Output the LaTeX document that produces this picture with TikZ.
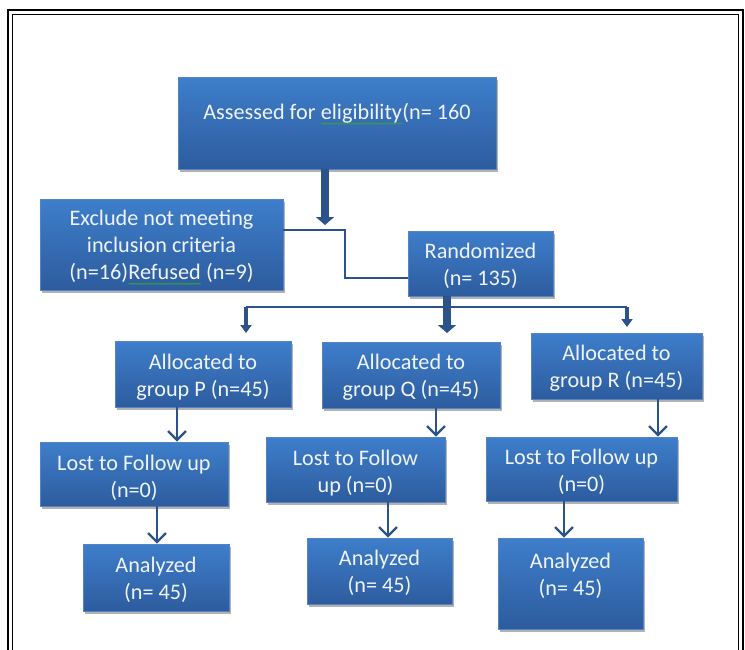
\documentclass[tikz,border=0pt]{standalone}
\usepackage{fontspec}
\setmainfont{Carlito}
\usetikzlibrary{arrows.meta,shadows,decorations.pathmorphing}
\definecolor{boxtop}{RGB}{62,126,203}
\definecolor{boxbot}{RGB}{45,92,158}
\definecolor{boxedge}{RGB}{84,132,196}
\definecolor{conn}{RGB}{44,82,138}
\definecolor{txtc}{RGB}{240,244,250}
\definecolor{wavec}{RGB}{60,160,60}
\newcommand\squig[1]{\tikz[baseline=(w.base)]{\node[inner sep=0pt,outer sep=0pt,anchor=base,text=txtc](w){#1};\draw[wavec,line width=0.7pt,decorate,decoration={snake,amplitude=0.7pt,segment length=3pt}]([yshift=-4pt]w.base west)--([yshift=-4pt]w.base east);}}
\tikzset{
 box/.style={rectangle, inner sep=0pt, top color=boxtop, bottom color=boxbot, draw=boxedge, line width=0.6pt,
   drop shadow={shadow xshift=1.5pt,shadow yshift=-2.5pt,opacity=0.3,fill=black}},
 txt/.style={text=txtc, align=center, inner sep=0pt, font=\fontsize{22.2}{27}\selectfont},
 thinline/.style={conn, line width=2.2pt},
 openarrow/.style={conn, line width=2.4pt, -{Straight Barb[length=9pt,width=18pt]}},
 bigarrow/.style={conn, line width=8pt, -{Triangle[length=8pt,width=18pt]}},
 midarrow/.style={conn, line width=4.5pt, -{Triangle[length=8pt,width=11pt]}},
 frameouter/.style={black, line width=2.5pt},
 frameinner/.style={black, line width=1pt},
}
\begin{document}
\begin{tikzpicture}[x=1pt,y=-1pt]
\useasboundingbox (0,0) rectangle (745,649);
\fill[white] (0,0) rectangle (745,649);
\begin{scope}
\clip (0,0) rectangle (745,649);
\draw[frameouter] (8,10) rectangle (743,680);
\draw[frameinner] (12.5,14.5) rectangle (738.5,680);
\end{scope}

% boxes
\node[box,minimum width=318pt,minimum height=92pt] (assess) at (337,123) {};
\node[txt] (assessT) at (337,114) {Assessed for \squig{eligibility}(n= 160};

\node[box,minimum width=243pt,minimum height=91pt] (excl) at (161.5,244.5) {};
\node[txt] (exclT) at (161.5,247.5) {Exclude not meeting\\inclusion criteria\\(n=16)\squig{Refused} (n=9)};

\node[box,minimum width=145pt,minimum height=65pt] (rand) at (480.5,263.5) {};
\node[txt] (randT) at (480.5,266) {Randomized\\(n= 135)};

\node[box,minimum width=176pt,minimum height=66pt] (allocP) at (203,374) {};
\node[txt] (allocPT) at (203,377) {Allocated to\\group P (n=45)};
\node[box,minimum width=178pt,minimum height=66pt] (allocQ) at (411,375) {};
\node[txt] (allocQT) at (411,377.5) {Allocated to\\group Q (n=45)};
\node[box,minimum width=171pt,minimum height=66pt] (allocR) at (616.5,366) {};
\node[txt] (allocRT) at (616.5,368.5) {Allocated to\\group R (n=45)};

\node[box,minimum width=188pt,minimum height=64pt] (lostP) at (134,474) {};
\node[txt] (lostPT) at (134,478) {Lost to Follow up\\(n=0)};
\node[box,minimum width=179pt,minimum height=65pt] (lostQ) at (355.5,469.5) {};
\node[txt] (lostQT) at (355.5,473) {Lost to Follow\\up (n=0)};
\node[box,minimum width=191pt,minimum height=64pt] (lostR) at (581.5,469) {};
\node[txt] (lostRT) at (581.5,472) {Lost to Follow up\\(n=0)};

\node[box,minimum width=146pt,minimum height=67pt] (anaP) at (156,577.5) {};
\node[txt] (anaPT) at (156,580) {Analyzed\\(n= 45)};
\node[box,minimum width=145pt,minimum height=66pt] (anaQ) at (379.5,571) {};
\node[txt] (anaQT) at (379.5,573) {Analyzed\\(n= 45)};
\node[box,minimum width=145pt,minimum height=91pt] (anaR) at (570.5,583.5) {};
\node[txt] (anaRT) at (570.5,576) {Analyzed\\(n= 45)};

% connectors
\coordinate (a1) at (325,225);
\draw[bigarrow] (assess.south -| a1) -- (a1);

\coordinate (c1) at (345,230);
\coordinate (c2) at (345,278);
\draw[thinline] (excl.east |- c1) -- (c1) -- (c2) -- (rand.west |- c2);

\coordinate (bl) at (246,307);
\coordinate (br) at (627,307);
\coordinate (blt) at (246,333);
\coordinate (brt) at (627,327);
\coordinate (mt) at (447,333);
\draw[conn,line width=2.8pt] (bl) -- (br);
\draw[midarrow] (bl) -- (blt);
\draw[midarrow] (br) -- (brt);
\draw[bigarrow] (rand.south -| mt) -- (mt);

\coordinate (xp) at (177,0);
\coordinate (xq) at (436,0);
\coordinate (xr) at (658,0);
\draw[openarrow] (allocP.south -| xp) -- (lostP.north -| xp);
\draw[openarrow] (allocQ.south -| xq) -- (lostQ.north -| xq);
\draw[openarrow] (allocR.south -| xr) -- (lostR.north -| xr);

\coordinate (yp) at (157,0);
\coordinate (yq) at (388,0);
\coordinate (yr) at (564,0);
\draw[openarrow] (lostP.south -| yp) -- (anaP.north -| yp);
\draw[openarrow] (lostQ.south -| yq) -- (anaQ.north -| yq);
\draw[openarrow] (lostR.south -| yr) -- (anaR.north -| yr);
\end{tikzpicture}
\end{document}
